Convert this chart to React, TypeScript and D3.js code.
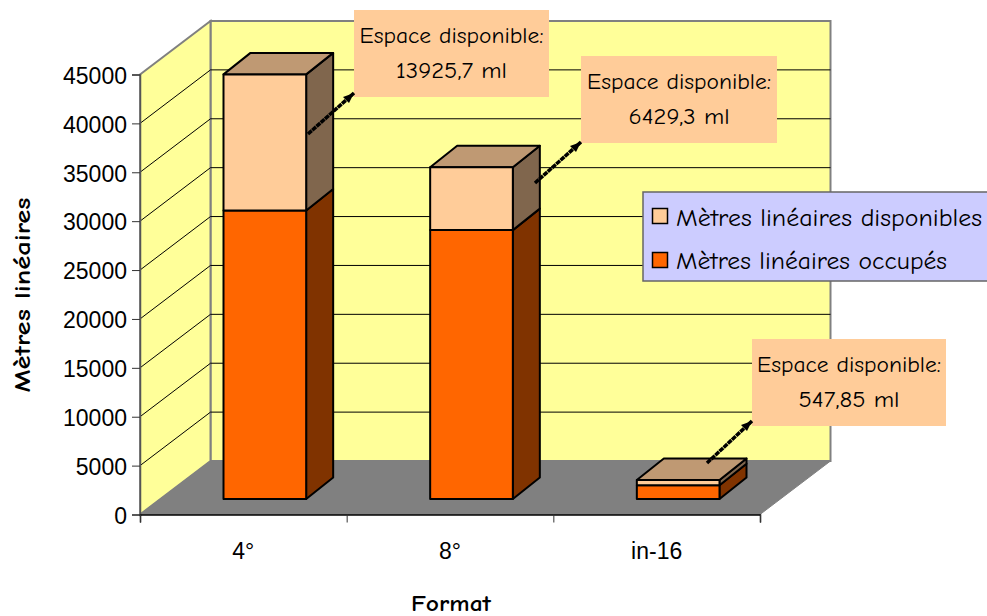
import React, { useEffect, useRef } from "react";
import { axisBottom, axisLeft, scaleBand, scaleLinear, select, stack } from "d3";

const categories = ["4°", "8°", "in-16"];
const occupied = [29500, 27500, 1400];
const available = [13925.7, 6429.3, 547.85];
const yTicks = [0, 5000, 10000, 15000, 20000, 25000, 30000, 35000, 40000, 45000];
const calloutValues = ["13925,7 ml", "6429,3 ml", "547,85 ml"];
const seriesNames = ["Mètres linéaires occupés", "Mètres linéaires disponibles"];

const WIDTH = 987;
const HEIGHT = 616;
const COMIC = "'Comic Sans MS', 'Comic Neue', Lato, 'Open Sans', sans-serif";
const ARIAL = "'Liberation Sans', Arial, sans-serif";

// oblique projection offsets
const wallDx = 70.5;
const wallDy = -53.5;
const barShiftX = 21.5;
const barShiftY = -15.5;
const barDepthX = 27;
const barDepthY = -21.5;

const palette = [
  { front: "#FF6600", side: "#803300", top: "#BF7A4D" },
  { front: "#FFCC99", side: "#80664D", top: "#BF9973" },
];

// callout boxes, one per bar
const calloutBoxes = [
  { x: 354, y: 10, w: 195, h: 87, valueWidth: 111, from: [308, 134], to: [354, 93] },
  { x: 581, y: 56, w: 196, h: 87, valueWidth: 101, from: [535, 183], to: [581, 142] },
  { x: 752, y: 339, w: 194, h: 87, valueWidth: 101, from: [707, 463], to: [752, 421] },
];

const rows = categories.map((c, i) => ({ c, occupied: occupied[i], available: available[i] }));

const App = () => {
  const yAxisRef = useRef<SVGGElement>(null);
  const xLabelRef = useRef<SVGGElement>(null);
  const xTickRef = useRef<SVGGElement>(null);

  const y = scaleLinear().domain([0, 45000]).range([514.5, 74.5]);
  const x = scaleBand().domain(categories).range([140, 760]).paddingInner(0.6).paddingOuter(0.3);
  // ticks sit on band edges, labels on band centres
  const edges = scaleLinear().domain([0, 3]).range([140, 760]);
  const series = stack().keys(["occupied", "available"])(rows as any);

  useEffect(() => {
    const yAxis = select(yAxisRef.current);
    yAxis.call(axisLeft(y).tickValues(yTicks).tickSize(8).tickPadding(5).tickFormat((d) => String(d)) as any);
    yAxis.select(".domain").attr("stroke", "#555").attr("stroke-width", 1.5);
    yAxis.selectAll("line").attr("stroke", "#333");
    yAxis.selectAll("text").attr("font-family", ARIAL).attr("font-size", 23).attr("fill", "#000").attr("dy", "0.38em");

    const xLabels = select(xLabelRef.current);
    xLabels.call(axisBottom(x).tickSize(0).tickPadding(28) as any);
    xLabels.select(".domain").remove();
    xLabels.selectAll("text").attr("font-family", ARIAL).attr("font-size", 23).attr("fill", "#000");

    const xTicks = select(xTickRef.current);
    xTicks.call(axisBottom(edges).tickValues([0, 1, 2, 3]).tickSize(8).tickFormat(() => "") as any);
    xTicks.select(".domain").attr("stroke", "#000").attr("stroke-width", 1.5);
    xTicks.selectAll("line").attr("stroke", "#333");
  }, []);

  const x0 = 140;
  const x1 = 760;
  const y0 = y(0);
  const yTop = y(45000);

  return (
    <svg width={WIDTH} height={HEIGHT} style={{ position: "absolute", left: 0, top: 0, background: "#fff" }}>
      {/* walls */}
      <polygon
        points={`${x0 + wallDx},${yTop + wallDy} ${x1 + wallDx},${yTop + wallDy} ${x1 + wallDx},${y0 + wallDy} ${x0 + wallDx},${y0 + wallDy}`}
        fill="#FFFF99"
        stroke="#808080"
        strokeWidth={2}
      />
      <polygon
        points={`${x0},${yTop} ${x0 + wallDx},${yTop + wallDy} ${x0 + wallDx},${y0 + wallDy} ${x0},${y0}`}
        fill="#FFFF99"
        stroke="#808080"
        strokeWidth={2}
      />
      {/* gridlines, the top one is the wall edge itself */}
      {yTicks.slice(1, -1).map((t) => (
        <polyline
          key={t}
          points={`${x0},${y(t)} ${x0 + wallDx},${y(t) + wallDy} ${x1 + wallDx},${y(t) + wallDy}`}
          fill="none"
          stroke="#000"
          strokeWidth={1}
        />
      ))}
      {/* floor */}
      <polygon
        points={`${x0},${y0} ${x0 + wallDx},${y0 + wallDy} ${x1 + wallDx},${y0 + wallDy} ${x1},${y0}`}
        fill="#808080"
        stroke="#808080"
      />
      {/* bars */}
      {series.map((s: any, si: number) =>
        s.map((d: any, i: number) => {
          const left = x(categories[i])! + barShiftX;
          const right = left + x.bandwidth();
          const bottom = y(d[0]) + barShiftY;
          const top = y(d[1]) + barShiftY;
          const colors = palette[si];
          return (
            <g key={`${si}-${i}`} stroke="#000" strokeWidth={2} strokeLinejoin="round">
              <polygon
                points={`${right},${bottom} ${right + barDepthX},${bottom + barDepthY} ${right + barDepthX},${top + barDepthY} ${right},${top}`}
                fill={colors.side}
              />
              {si === series.length - 1 && (
                <polygon
                  points={`${left},${top} ${left + barDepthX},${top + barDepthY} ${right + barDepthX},${top + barDepthY} ${right},${top}`}
                  fill={colors.top}
                />
              )}
              <rect x={left} y={top} width={x.bandwidth()} height={bottom - top} fill={colors.front} />
            </g>
          );
        })
      )}
      {/* axes */}
      <g ref={yAxisRef} transform="translate(140,0)" />
      <g ref={xTickRef} transform={`translate(0,${y0})`} />
      <g ref={xLabelRef} transform={`translate(0,${y0})`} />
      <text
        transform="translate(30,295) rotate(-90)"
        textAnchor="middle"
        fontFamily={COMIC}
        fontWeight="bold"
        fontSize={22}
        textLength={195}
        lengthAdjust="spacingAndGlyphs"
      >
        Mètres linéaires
      </text>
      <text
        x={451}
        y={611}
        textAnchor="middle"
        fontFamily={COMIC}
        fontWeight="bold"
        fontSize={22}
        textLength={80}
        lengthAdjust="spacingAndGlyphs"
      >
        Format
      </text>
      {/* callouts */}
      {calloutBoxes.map((b, i) => (
        <g key={i}>
          <rect x={b.x} y={b.y} width={b.w} height={b.h} fill="#FFCC99" />
          <line
            x1={b.from[0]}
            y1={b.from[1]}
            x2={b.to[0]}
            y2={b.to[1]}
            stroke="#000"
            strokeWidth={3.5}
            strokeDasharray="5 0.7"
          />
          <polygon
            points={`${b.to[0]},${b.to[1]} ${b.to[0] - 11},${b.to[1] + 4} ${b.to[0] - 5},${b.to[1] + 10}`}
            fill="#000"
          />
          <text
            x={b.x + b.w / 2}
            y={b.y + 33}
            textAnchor="middle"
            fontFamily={COMIC}
            fontSize={23}
            textLength={184}
            lengthAdjust="spacingAndGlyphs"
          >
            Espace disponible:
          </text>
          <text
            x={b.x + b.w / 2}
            y={b.y + 68}
            textAnchor="middle"
            fontFamily={COMIC}
            fontSize={23}
            textLength={b.valueWidth}
            lengthAdjust="spacingAndGlyphs"
          >
            {calloutValues[i]}
          </text>
        </g>
      ))}
      {/* legend */}
      <rect x={643} y={192} width={346} height={89} fill="#CCCCFF" stroke="#666" strokeWidth={1.5} />
      <rect x={652.5} y={208.5} width={15} height={15} fill={palette[1].front} stroke="#000" strokeWidth={1.5} />
      <text x={676} y={226} fontFamily={COMIC} fontSize={24} textLength={306} lengthAdjust="spacingAndGlyphs">
        {seriesNames[1]}
      </text>
      <rect x={652.5} y={252.5} width={15} height={15} fill={palette[0].front} stroke="#000" strokeWidth={1.5} />
      <text x={676} y={269} fontFamily={COMIC} fontSize={24} textLength={271} lengthAdjust="spacingAndGlyphs">
        {seriesNames[0]}
      </text>
    </svg>
  );
};

export default App;
